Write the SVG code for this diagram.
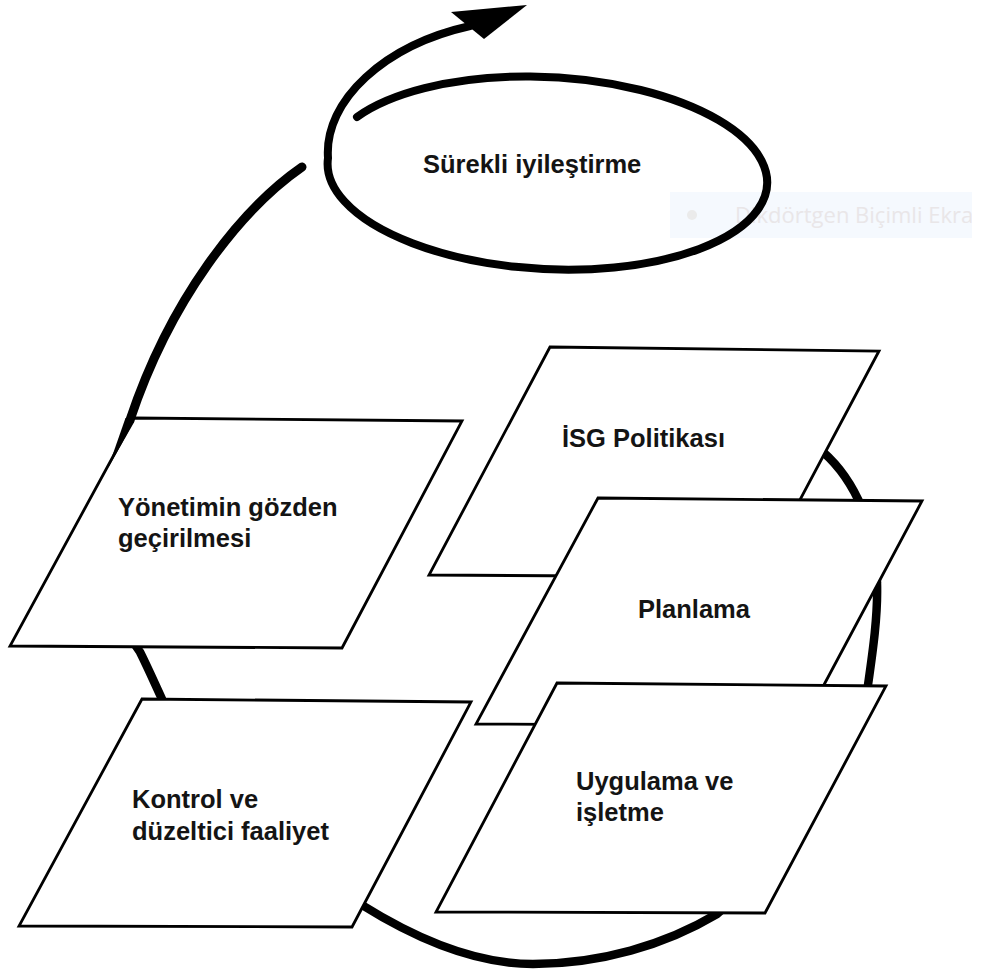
<svg xmlns="http://www.w3.org/2000/svg" width="981" height="976" viewBox="0 0 981 976">
<defs>
<style>
.para{fill:#fff;stroke:#000;stroke-width:2.8;stroke-linejoin:miter}
.lbl{font-family:"Liberation Sans",Arial,sans-serif;font-weight:bold;font-size:25.5px;fill:#141414}
.thick{fill:none;stroke:#000;stroke-width:8.5;stroke-linecap:round}
.tip{font-family:"Open Sans","Noto Sans",sans-serif;font-size:22px;fill:#e9e6e8}
</style>
<clipPath id="tipclip"><rect x="670" y="192" width="302" height="46"/></clipPath>
</defs>
<rect width="981" height="976" fill="#fff"/>

<g id="tooltip" clip-path="url(#tipclip)">
<rect x="670" y="192" width="302" height="46" fill="#f5f9fe"/>
<circle cx="692" cy="215" r="5" fill="#ebebeb"/>
<text class="tip" x="735" y="223">Dikdörtgen Biçimli Ekra</text>
</g>

<g id="connectors">
<path class="thick" d="M125,480 C105,540 112,615 140,652 C148,668 155,684 162,699 C190,768 290,860 362,905 C410,935 470,964 533,964 C600,964 665,945 717,914 C780,860 860,740 868,685 C873,650 878,615 877,583 C877,530 855,480 823,452 C800,420 780,400 760,385"/>
</g>

<g id="node-surekli">
<path fill="none" stroke="#000" stroke-width="8" stroke-linecap="round" d="M357,117 A220,96 3 1,1 328,158 C324,100 385,45 470,26"/>
<polygon points="527,5 451,12 484,39" fill="#000"/>
<text class="lbl" x="423" y="173">Sürekli iyileştirme</text>
</g>

<g id="node-isg">
<path class="para" d="M550,347 L879,351 L759,577 L429,575 Z"/>
<text class="lbl" x="562" y="447">İSG Politikası</text>
</g>

<g id="node-planlama">
<path class="para" d="M598,498 L922,501 L802,726 L476,724 Z"/>
<text class="lbl" x="638" y="618">Planlama</text>
</g>

<g id="node-uygulama">
<path class="para" d="M557,683 L886,686 L765,913 L436,912 Z"/>
<text class="lbl" x="576" y="790">Uygulama ve</text>
<text class="lbl" x="576" y="821">işletme</text>
</g>

<g id="node-yonetim">
<path class="para" d="M134,418 L462,421 L342,648 L10,646 Z"/>
<text class="lbl" x="118" y="516">Yönetimin gözden</text>
<text class="lbl" x="118" y="547">geçirilmesi</text>
</g>

<g id="node-kontrol">
<path class="para" d="M142,699 L471,702 L352,927 L19,926 Z"/>
<text class="lbl" x="132" y="808">Kontrol ve</text>
<text class="lbl" x="132" y="840">düzeltici faaliyet</text>
</g>

<g id="connectors-top">
<path fill="none" stroke="#000" stroke-width="9" stroke-linecap="round" d="M302,167 C240,210 170,300 130,420"/>
<polygon points="125.5,418 134.5,421.5 108,468" fill="#000"/>
</g>
</svg>
